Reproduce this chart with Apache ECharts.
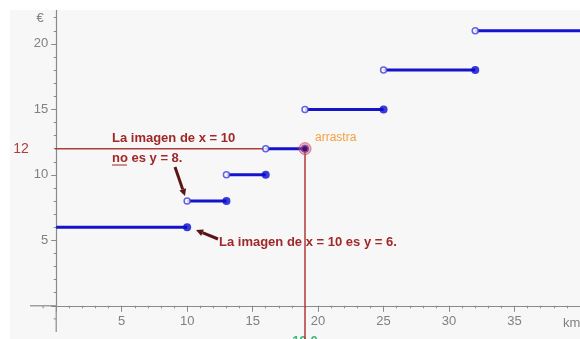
<!DOCTYPE html>
<html>
<head>
<meta charset="utf-8">
<script src="https://cdn.jsdelivr.net/npm/echarts@6/dist/echarts.min.js"></script>
<style>
html,body{margin:0;padding:0;background:#fff;overflow:hidden;}
#bg{position:absolute;left:10px;top:10px;width:570px;height:329px;background:#f7f7f7;}
#chart{position:absolute;left:0;top:0;width:580px;height:339px;}
#topmask{position:absolute;left:0;top:0;width:580px;height:10px;background:#fff;}
</style>
</head>
<body>
<div id="bg"></div>
<div id="chart"></div>
<div id="topmask"></div>
<script>
// Step function: price (€) by distance (km)
const breaks = [0, 10, 13, 16, 19, 25, 32, 40];
const prices = [6, 8, 10, 12, 15, 18, 21];
const probeX = 19.0;
const probeY = 12;

const BLUE = '#1414c8';
const RED = '#b03c3c';
const AXIS = '#8a8a8a';
const LABEL = '#808080';
const LABEL_FONT = 'Liberation Sans, Arial, sans-serif';

const series = [];
// red guide lines (under the steps)
series.push({
  type: 'line', data: [[-2, probeY], [probeX, probeY], [probeX, -2.6]],
  symbol: 'none', clip: false, z: 2, silent: true,
  lineStyle: { color: RED, width: 1.5 }
});
for (let i = 0; i < prices.length; i++) {
  series.push({
    type: 'line', data: [[breaks[i], prices[i]], [breaks[i + 1], prices[i]]],
    symbol: 'none', z: 3, silent: true, clip: false,
    lineStyle: { color: BLUE, width: 3 }
  });
}
// closed endpoints
series.push({
  type: 'scatter', z: 4, symbolSize: 8, silent: true,
  itemStyle: { color: '#0a0ad2' },
  data: prices.slice(0, prices.length - 1).map((p, i) => [breaks[i + 1], p])
});
// open endpoints
series.push({
  type: 'scatter', z: 5, symbolSize: 6, silent: true,
  itemStyle: { color: '#ffffff', borderColor: '#3c3ce0', borderWidth: 1.5 },
  data: prices.slice(1).map((p, i) => [breaks[i + 1], p])
});
// draggable point
series.push({
  type: 'scatter', z: 6, symbolSize: 12, silent: true,
  itemStyle: { color: 'rgba(225,90,110,0.55)', borderColor: 'rgba(200,60,80,0.8)', borderWidth: 1 },
  data: [[probeX, probeY]]
});
series.push({
  type: 'scatter', z: 7, symbolSize: 5, silent: true,
  itemStyle: { color: '#3a0a50' },
  data: [[probeX, probeY]]
});

const chart = echarts.init(document.getElementById('chart'), null, { renderer: 'canvas' });
const U = 13.095; // px per unit, both axes
chart.setOption({
  animation: false,
  backgroundColor: 'transparent',
  grid: { left: 56.2, top: 305.8 - 25 * U, width: 40 * U, height: 25 * U, containLabel: false, outerBoundsMode: 'none' },
  xAxis: {
    type: 'value', min: 0, max: 40, interval: 5, splitLine: { show: false },
    axisLine: { onZero: false, lineStyle: { color: AXIS, width: 1.2 } },
    axisTick: { show: true, length: 6, lineStyle: { color: AXIS } },
    minorTick: { show: true, splitNumber: 5, length: 2.5, lineStyle: { color: AXIS } },
    axisLabel: { color: LABEL, fontSize: 13, margin: 9, fontFamily: LABEL_FONT,
      formatter: v => (v > 0 && v < 40 ? String(v) : '') }
  },
  yAxis: {
    type: 'value', min: 0, max: 25, interval: 5, splitLine: { show: false },
    axisLine: { onZero: false, lineStyle: { color: AXIS, width: 1.2 } },
    axisTick: { show: true, length: 5, lineStyle: { color: AXIS } },
    minorTick: { show: true, splitNumber: 5, length: 2.5, lineStyle: { color: AXIS } },
    axisLabel: { color: LABEL, fontSize: 13, margin: 8, fontFamily: LABEL_FONT,
      formatter: v => (v > 0 && v < 22 ? String(v) : '') }
  },
  series: series
});

const P = v => chart.convertToPixel({ gridIndex: 0 }, v);
const px = P([probeX, probeY]);
const o = P([0, 0]);
const xNeg = P([-2, 0]);
const xNeg1 = P([-1, 0]);
const yNeg = P([0, -2]);
const yNeg1 = P([0, -1]);
const ANN = '#a02828';
const ARROW = '#5a1616';
const boldFont = 'bold 13px "Liberation Sans", Arial, sans-serif';
function arrow(x1, y1, x2, y2) {
  const ang = Math.atan2(y2 - y1, x2 - x1);
  const L = 7, W = 3.5;
  const bx = x2 - L * Math.cos(ang), by = y2 - L * Math.sin(ang);
  const nx = -Math.sin(ang), ny = Math.cos(ang);
  return [
    { type: 'line', shape: { x1: x1, y1: y1, x2: bx, y2: by }, style: { stroke: ARROW, lineWidth: 3 }, silent: true },
    { type: 'polygon', shape: { points: [[x2, y2], [bx + nx * W, by + ny * W], [bx - nx * W, by - ny * W]] }, style: { fill: ARROW }, silent: true }
  ];
}
chart.setOption({
  graphic: [
    // axis extensions into negative region
    { type: 'line', shape: { x1: xNeg[0], y1: o[1], x2: o[0], y2: o[1] }, style: { stroke: AXIS, lineWidth: 1.2 }, silent: true },
    { type: 'line', shape: { x1: o[0], y1: o[1], x2: o[0], y2: yNeg[1] }, style: { stroke: AXIS, lineWidth: 1.2 }, silent: true },
    { type: 'line', shape: { x1: xNeg1[0], y1: o[1], x2: xNeg1[0], y2: o[1] + 2.5 }, style: { stroke: AXIS, lineWidth: 1 }, silent: true },
    { type: 'line', shape: { x1: o[0] - 2.5, y1: yNeg1[1], x2: o[0], y2: yNeg1[1] }, style: { stroke: AXIS, lineWidth: 1 }, silent: true },
    { type: 'text', x: 40, y: 18, style: { text: '€', fill: LABEL, font: '13px "Liberation Sans", Arial, sans-serif', align: 'center', verticalAlign: 'middle' }, silent: true },
    { type: 'text', x: 563, y: 323, style: { text: 'km', fill: LABEL, font: '13px "Liberation Sans", Arial, sans-serif', align: 'left', verticalAlign: 'middle' }, silent: true },
    { type: 'text', x: 21, y: px[1], style: { text: String(probeY), fill: RED, font: '14px "Liberation Sans", Arial, sans-serif', align: 'center', verticalAlign: 'middle' }, silent: true },
    { type: 'text', x: px[0], y: 341, style: { text: probeX.toFixed(1), fill: '#3cb878', font: 'bold 13px "Liberation Sans", Arial, sans-serif', align: 'center', verticalAlign: 'middle' }, silent: true },
    { type: 'text', x: 315, y: 138, style: { text: 'arrastra', fill: '#f5a040', font: '12px "Liberation Sans", Arial, sans-serif', align: 'left', verticalAlign: 'middle' }, silent: true },
    { type: 'text', x: 112, y: 138, style: { text: 'La imagen de x = 10', fill: ANN, font: boldFont, align: 'left', verticalAlign: 'middle' }, silent: true },
    { type: 'text', x: 112, y: 158, style: { text: 'no es y = 8.', fill: ANN, font: boldFont, align: 'left', verticalAlign: 'middle' }, silent: true },
    { type: 'line', shape: { x1: 112, y1: 165, x2: 127, y2: 165 }, style: { stroke: ANN, lineWidth: 1 }, silent: true },
    { type: 'text', x: 219, y: 242, style: { text: 'La imagen de x = 10 es y = 6.', fill: ANN, font: boldFont, align: 'left', verticalAlign: 'middle' }, silent: true }
  ].concat(arrow(175, 167, 185, 196)).concat(arrow(218, 239, 196, 230))
});
</script>
</body>
</html>
